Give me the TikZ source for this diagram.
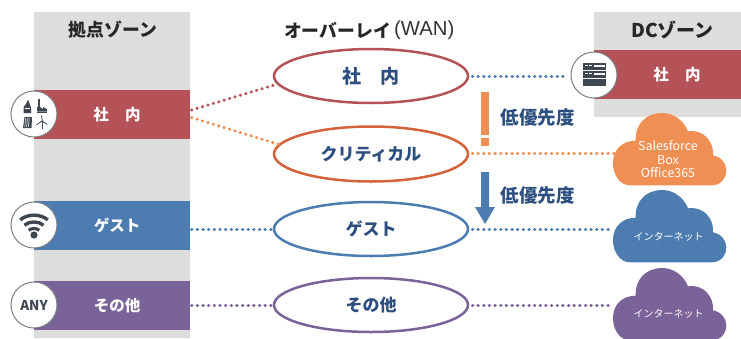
\documentclass[tikz,border=0pt]{standalone}
\usepackage{fontspec}
\usetikzlibrary{shapes.geometric,calc}
\newfontfamily\jp{Noto Sans CJK JP}
\newfontfamily\lat{Liberation Sans}
\definecolor{cred}{HTML}{B55257}
\definecolor{cblue}{HTML}{4D7CB0}
\definecolor{cpurple}{HTML}{7A6399}
\definecolor{corange}{HTML}{F08F54}
\definecolor{cdeep}{HTML}{D4623A}
\definecolor{cgray}{HTML}{DDDDDD}
\definecolor{cnavy}{HTML}{2C4F7F}
\definecolor{cdark}{HTML}{3E4650}
\definecolor{cring}{HTML}{7A8086}
\newcommand{\cloudshape}[2]{%
  \fill[#2,shift={#1}] (17,72.3)
    .. controls (7,72.3) and (0,62) .. (0,50)
    .. controls (0,36) and (10,27.7) .. (22.7,27.7)
    .. controls (22,11) and (33,0) .. (49.3,0)
    .. controls (61,0) and (71,8) .. (75,18.3)
    .. controls (90,16) and (101,28) .. (100,42.3)
    .. controls (108,44) and (113.3,50) .. (113.3,57.3)
    .. controls (113.3,66) and (107,72.3) .. (99,72.3) -- cycle;}
\tikzset{
  x=1pt,y=-1pt,
  every node/.style={font=\jp},
  band/.style={minimum height=49pt,inner sep=0pt,text=white,font=\jp\bfseries\fontsize{15.5}{17}\selectfont},
  leftband/.style={band,minimum width=156pt},
  rightband/.style={band,minimum width=147pt},
  ring/.style={circle,draw=cring,line width=1pt,fill=white,minimum size=46pt,inner sep=0pt},
  oval/.style={ellipse,fill=white,line width=2.5pt,minimum width=194pt,minimum height=54pt,inner sep=0pt,text=cnavy,font=\jp\bfseries\fontsize{17}{19}\selectfont},
  head/.style={text=black!85,inner sep=0pt,font=\jp\bfseries\fontsize{17.8}{20}\selectfont},
  prio/.style={text=cnavy,inner sep=0pt,font=\jp\bfseries\fontsize{18.5}{20}\selectfont},
  dots/.style={line width=3pt,line cap=round,dash pattern=on 0.5pt off 5.15pt},
  cloudtext/.style={text=white,inner sep=0pt,align=center,font=\jp\fontsize{10}{13.5}\selectfont},
}
\begin{document}
\begin{tikzpicture}
\useasboundingbox (0,0) rectangle (741,338);
\clip (0,0) rectangle (741,338);
% zones
\fill[cgray] (34,12) rectangle (190,338);
\fill[cgray] (594,12) rectangle (741,117);
% bands
\node[leftband,fill=cred] (lcorp) at (112,114.5) {\hspace*{10pt}社\hspace{1.05em}内};
\node[leftband,fill=cblue] (lguest) at (112,225.5) {\hspace*{10pt}ゲスト};
\node[leftband,fill=cpurple] (lother) at (112,305.5) {\hspace*{10pt}その他};
\node[rightband,fill=cred] (rcorp) at (667.5,74.5) {\hspace*{19pt}社\hspace{1.05em}内};
% ovals
\node[oval,draw=cred,font=\jp\bfseries\fontsize{19}{21}\selectfont] (ocorp) at (371,76) {社\hspace{1em}内};
\node[oval,draw=cdeep,minimum height=55pt] (ocrit) at (371,154) {クリティカル};
\node[oval,draw=cblue] (oguest) at (371,229) {ゲスト};
\node[oval,draw=cpurple] (oother) at (371,305) {その他};
% headers
\node[head] (h1) at (113,30) {拠点ゾーン};
\node[head,anchor=east] (h2) at (391,30) {オーバーレイ};
\node[inner sep=0pt,anchor=west,text=black!80,font=\lat\fontsize{20.3}{21}\selectfont] (h2b) at ($(h2.east)+(3,0)$) {(WAN)};
\node[head,font=\jp\bfseries\fontsize{19}{20}\selectfont] (h3) at (672.5,30) {DCゾーン};
% clouds
\cloudshape{(613,113)}{corange}
\cloudshape{(613,190)}{cblue}
\cloudshape{(613,268)}{cpurple}
\node[cloudtext,font=\jp\fontsize{12.4}{13.5}\selectfont] (corg) at (668,159.5) {Salesforce\\Box\\Office365};
\node[cloudtext] (cblu) at (668.5,237) {インターネット};
\node[cloudtext] (cpur) at (668.5,314) {インターネット};
% connector ends
\coordinate (a1) at (191.5,110);
\coordinate (a2) at (191.5,117.5);
\coordinate (a3) at (191.5,229);
\coordinate (a4) at (191.5,305);
\coordinate (b1) at (568,76);
\coordinate (b2) at (615,153);
\coordinate (b3) at (613,229);
\coordinate (b4) at (613,305);
\draw[dots,cred] (a1) -- (ocorp.185);
\draw[dots,corange] (a2) -- (ocrit.174);
\draw[dots,cblue] (a3) -- (oguest.west);
\draw[dots,cpurple] (a4) -- (oother.west);
\draw[dots,cblue] ($(ocorp.east)+(3,0)$) -- (b1);
\draw[dots,corange] ($(ocrit.east)+(3,-1)$) -- (b2);
\draw[dots,cblue] ($(oguest.east)+(3,0)$) -- (b3);
\draw[dots,cpurple] ($(oother.east)+(3,0)$) -- (b4);
% rings
\node[ring] (r1) at (34,114) {};
\node[ring] (r2) at (34,225) {};
\node[ring,text=cdark,font=\jp\bfseries\fontsize{13.5}{15}\selectfont] (r3) at (34,305) {ANY};
\node[ring] (r4) at (594,75) {};
% server icon
\foreach \yy in {63,71}{
  \fill[cdark] (583,\yy) rectangle (606,\yy+7);
  \fill[white] (585,\yy+1.5) rectangle (587.5,\yy+3);
  \fill[white] (589,\yy+1.5) rectangle (591.5,\yy+3);
  \fill[white] (594,\yy+1.5) rectangle (604.5,\yy+3.5);
}
\fill[cdark] (583,79) rectangle (606,86);
% wifi icon
\fill[cdark] (34,235) circle (3.6);
\draw[cdark,line width=3.4pt] (20.2,219.9) .. controls (27.5,213.6) and (40.5,213.6) .. (47.8,219.9);
\draw[cdark,line width=3.4pt] (24.4,225.2) .. controls (29.5,220.9) and (38.5,220.9) .. (43.6,225.2);
\draw[cdark,line width=3.2pt] (28.7,230.2) .. controls (31.5,228) and (36.5,228) .. (39.3,230.2);
% four-utility icon
\fill[cdark] (23.5,113) -- (23.5,108) .. controls (24,106) and (25,105) .. (26,104) .. controls (26.5,102) and (27,101) .. (28,99.5) .. controls (28.5,102) and (30,104) .. (30.5,106) -- (31,108) -- (31,113) -- cycle;
\fill[white] (25,107.5) rectangle (29.5,108.5);
\fill[cdark] (38,98.5) rectangle (40,108);
\fill[cdark] (37,111.5) -- (37,107) -- (40,107) -- (43,109) -- (43,107) -- (47,109) -- (47,111.5) -- cycle;
\fill[cdark] (37,112) rectangle (47,113);
\fill[cdark] (23,128) -- (24.5,117) -- (32,117) -- (31.5,128) -- cycle;
\foreach \xx in {25.7,27.5,29.3}{\draw[white,line width=.5pt] (\xx,118) -- (\xx-1,127);}
\draw[cdark,line width=1pt] (42,122) -- (42,128.5);
\fill[cdark] (42,121.5) -- (41,115) -- (42,116) -- (43,122) -- cycle;
\fill[cdark] (42,121.5) -- (36,125.5) -- (36.5,124.3) -- (41.5,120.7) -- cycle;
\fill[cdark] (42,121.5) -- (47.5,125) -- (47,123.7) -- (42.5,120.7) -- cycle;
% priority marks
\fill[corange] (481,92) rectangle (489,135);
\fill[corange] (481,138) rectangle (489,146);
\fill[cblue] (481,172) -- (489,172) -- (489,207) -- (495,207) -- (485,224) -- (475,207) -- (481,207) -- cycle;
\node[prio] (p1) at (537.5,118) {低優先度};
\node[prio] (p2) at (537.5,196) {低優先度};
\end{tikzpicture}
\end{document}
